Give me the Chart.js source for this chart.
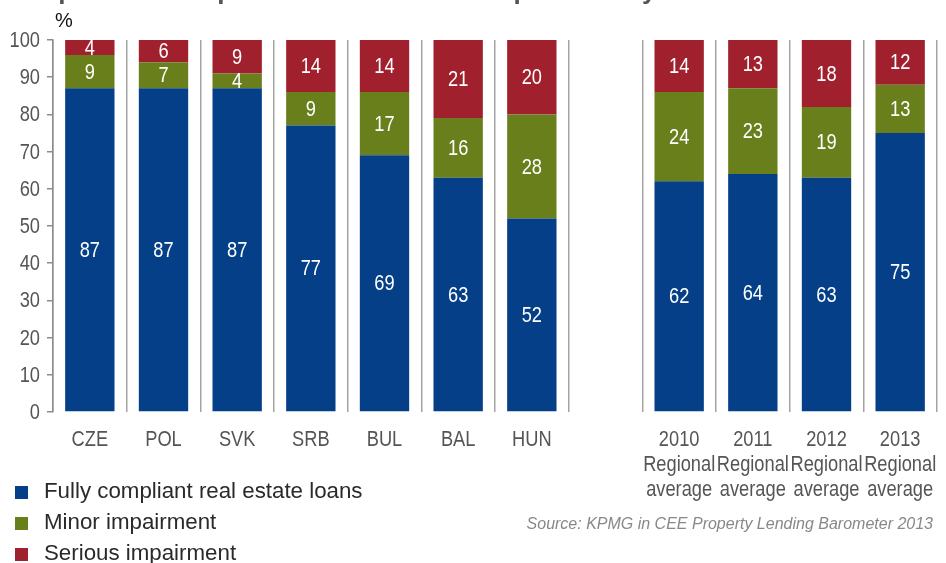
<!DOCTYPE html>
<html>
<head>
<meta charset="utf-8">
<script src="https://cdn.jsdelivr.net/npm/chart.js@4.4.1/dist/chart.umd.min.js"></script>
<style>
  body { margin: 0; background: #fff; overflow: hidden; }
  #wrap { position: relative; width: 946px; height: 563px; overflow: hidden; }
  #title { position: absolute; left: 15px; top: -23px; font: bold 26px 'Liberation Sans', Arial, sans-serif; color: #555; white-space: nowrap; line-height: 26px; }
  #unit { position: absolute; left: 55px; top: 9px; font: 20px 'Liberation Sans', Arial, sans-serif; color: #111; }
  #legend { position: absolute; left: 15px; top: 475px; font: 22.3px 'Liberation Sans', Arial, sans-serif; color: #2a2a2a; }
  #legend div { height: 31px; line-height: 31px; white-space: nowrap; }
  #legend span { display: inline-block; width: 13px; height: 13px; margin-right: 16px; vertical-align: -1px; }
  #source { position: absolute; right: 13px; top: 515px; font: italic 16px 'Liberation Sans', Arial, sans-serif; color: #888; }
</style>
</head>
<body>
<div id="wrap">
  <canvas id="chart-area" width="946" height="563"></canvas>
  <div id="title">Proportion of impaired real estate loans per country</div>
  <div id="unit">%</div>
  <div id="legend"></div>
  <div id="source">Source: KPMG in CEE Property Lending Barometer 2013</div>
</div>
<script>
var categories = ['CZE', 'POL', 'SVK', 'SRB', 'BUL', 'BAL', 'HUN', '',
	['2010', 'Regional', 'average'], ['2011', 'Regional', 'average'],
	['2012', 'Regional', 'average'], ['2013', 'Regional', 'average']];
var compliant = [87, 87, 87, 77, 69, 63, 52, null, 62, 64, 63, 75];
var minor = [9, 7, 4, 9, 17, 16, 28, null, 24, 23, 19, 13];
var serious = [4, 6, 9, 14, 14, 21, 20, null, 14, 13, 18, 12];
var yTicks = [0, 10, 20, 30, 40, 50, 60, 70, 80, 90, 100];

var colors = {
	blue: '#053f87',
	green: '#687f1c',
	red: '#a1202e'
};

// no condensed face is installed, so squeeze a regular one sideways
function narrowText(ctx, text, x, y, align) {
	ctx.save();
	ctx.translate(x, y);
	ctx.scale(0.83, 1);
	ctx.textAlign = align;
	ctx.textBaseline = 'middle';
	ctx.fillText(text, 0, 0);
	ctx.restore();
}

// tick labels for both axes, plus the white value inside every segment
var narrowLabels = {
	id: 'narrowLabels',
	afterDatasetsDraw: function (chart) {
		var ctx = chart.ctx;
		var xs = chart.scales.x, ys = chart.scales.y;
		ctx.save();
		ctx.font = '22px "Liberation Sans", Arial, sans-serif';

		ctx.fillStyle = '#fff';
		chart.data.datasets.forEach(function (ds, i) {
			chart.getDatasetMeta(i).data.forEach(function (bar, j) {
				if (ds.data[j] == null) return;
				narrowText(ctx, String(ds.data[j]), bar.x, (bar.y + bar.base) / 2 + 1, 'center');
			});
		});

		ctx.fillStyle = '#555';
		xs.ticks.forEach(function (t, i) {
			var lines = [].concat(chart.data.labels[i]);
			lines.forEach(function (line, k) {
				narrowText(ctx, line, xs.getPixelForTick(i), chart.chartArea.bottom + 28 + k * 25, 'center');
			});
		});
		ys.ticks.forEach(function (t, i) {
			narrowText(ctx, String(t.value), ys.right - 13, ys.getPixelForTick(i) + 1, 'right');
		});
		ctx.restore();
	}
};

var config = {
	type: 'bar',
	data: {
		labels: categories,
		datasets: [
			{ label: 'Fully compliant real estate loans', data: compliant, backgroundColor: colors.blue },
			{ label: 'Minor impairment', data: minor, backgroundColor: colors.green },
			{ label: 'Serious impairment', data: serious, backgroundColor: colors.red }
		]
	},
	options: {
		responsive: false,
		animation: false,
		layout: { padding: { top: 40, left: 0, right: 9, bottom: 51 } },
		datasets: { bar: { categoryPercentage: 1, barPercentage: 0.67 } },
		plugins: { legend: { display: false }, tooltip: { enabled: false } },
		scales: {
			x: {
				stacked: true,
				afterFit: function (scale) { scale.height = 100; },
				border: { display: false },
				grid: { color: '#a3a3a3', lineWidth: 1.5, drawTicks: false },
				ticks: { display: false, autoSkip: false, maxRotation: 0 }
			},
			y: {
				stacked: true,
				min: 0,
				max: 100,
				afterFit: function (scale) { scale.width = 53; },
				afterBuildTicks: function (scale) {
					scale.ticks = yTicks.map(function (v) { return { value: v }; });
				},
				border: { display: true, color: '#8c8c8c', width: 1.5 },
				grid: { drawOnChartArea: false, tickLength: 6, color: '#8c8c8c', lineWidth: 1.5 },
				ticks: { display: false }
			}
		}
	},
	plugins: [narrowLabels]
};

window.onload = function () {
	var ctx = document.getElementById('chart-area').getContext('2d');
	window.myBar = new Chart(ctx, config);

	var legend = document.getElementById('legend');
	config.data.datasets.forEach(function (ds) {
		var row = document.createElement('div');
		var box = document.createElement('span');
		box.style.background = ds.backgroundColor;
		row.appendChild(box);
		row.appendChild(document.createTextNode(ds.label));
		legend.appendChild(row);
	});
};
</script>
</body>
</html>
